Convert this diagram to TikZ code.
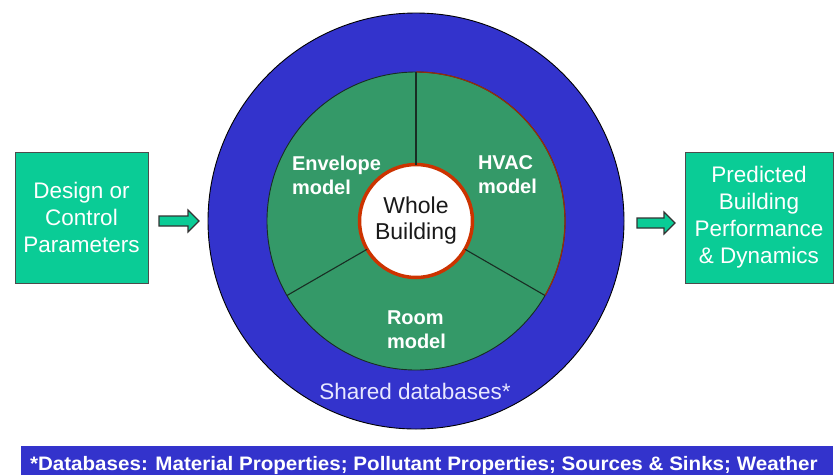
\documentclass[tikz,border=0pt]{standalone}
\usepackage{fontspec}
\setmainfont{Liberation Sans}
\usetikzlibrary{calc}
\definecolor{ringblue}{RGB}{51,51,204}
\definecolor{modelgreen}{RGB}{52,153,104}
\definecolor{boxgreen}{RGB}{10,204,150}
\definecolor{corered}{RGB}{204,51,0}
\definecolor{seamred}{RGB}{150,45,10}
\definecolor{spokegray}{RGB}{25,45,35}
\definecolor{lavender}{RGB}{232,232,255}
\begin{document}
\begin{tikzpicture}[x=1pt,y=-1pt,
  every node/.style={inner sep=0pt, outer sep=0pt},
  ringdisc/.style={circle, draw=black, line width=0.9pt, fill=ringblue, minimum size=416pt},
  modeldisc/.style={circle, draw=spokegray, line width=0.9pt, fill=modelgreen, minimum size=298pt},
  coredisc/.style={circle, draw=corered, line width=3.5pt, fill=white, minimum size=113pt,
    align=center, text=black!90, font=\fontsize{23}{26}\selectfont},
  seam/.style={draw=seamred, line width=1.2pt},
  spoke/.style={draw=spokegray, line width=1.1pt},
  modellabel/.style={align=left, text=white, font=\bfseries\fontsize{20}{24}\selectfont},
  sharedtext/.style={text=lavender, font=\fontsize{22.5}{27}\selectfont},
  iobox/.style={rectangle, draw=black!70, line width=1pt, fill=boxgreen, text=white,
    align=center, minimum height=131pt, font=\fontsize{22.5}{27}\selectfont},
  blockarrow/.style={draw=black!80, line width=1.2pt, fill=boxgreen, line join=miter},
  banner/.style={rectangle, fill=ringblue, minimum width=812pt, minimum height=29pt},
  legendtext/.style={text=white, font=\bfseries\fontsize{19.5}{23}\selectfont}
]
\useasboundingbox (0,0) rectangle (835,475);

% shared-database ring and the three model sectors
\node[ringdisc] (shared) at (416,221) {};
\node[modeldisc] (models) at (416,221) {};
\draw[seam] (models.90) arc[start angle=90, end angle=-30, radius=149pt];
\node[coredisc] (core) at (416,221) {Whole\\Building};
\draw[spoke] (core.90) -- (models.90);
\draw[spoke] (core.210) -- (models.210);
\draw[spoke] (core.330) -- (models.330);

% sector labels
\node[modellabel, anchor=west] (envlabel) at (292,175) {Envelope\\model};
\node[modellabel, anchor=west] (hvaclabel) at (478,175) {HVAC\\model};
\node[modellabel, anchor=west] (roomlabel) at (387,329.5) {Room\\model};
\node[sharedtext] (sharedlabel) at (415,391) {Shared databases*};

% input and output boxes
\node[iobox, minimum width=133pt] (design) at (81.5,217.5) {Design or\\Control\\Parameters};
\node[iobox, minimum width=148pt] (predicted) at (759,217.5) {Predicted\\Building\\Performance\\\& Dynamics};

% block arrows into and out of the ring
\coordinate (inTail) at ($(design.east |- shared.center)+(11,0)$);
\coordinate (outTail) at ($(shared.east)+(13,2)$);
\draw[blockarrow] (inTail) ++(0,5) -- ++(29,0) -- ++(0,6) -- ++(11,-11)
  -- ++(-11,-11) -- ++(0,6) -- ++(-29,0) -- cycle;
\draw[blockarrow] (outTail) ++(0,5) -- ++(27,0) -- ++(0,6) -- ++(11,-11)
  -- ++(-11,-11) -- ++(0,6) -- ++(-27,0) -- cycle;

% footnote banner
\node[banner, anchor=north west] (legend) at (21,446) {};
\node[legendtext, anchor=base west] (legendlabel) at (30,470)
  {\scalebox{1.056}[1]{*Databases: Material Properties; Pollutant Properties; Sources \& Sinks; Weather}};
\end{tikzpicture}
\end{document}
